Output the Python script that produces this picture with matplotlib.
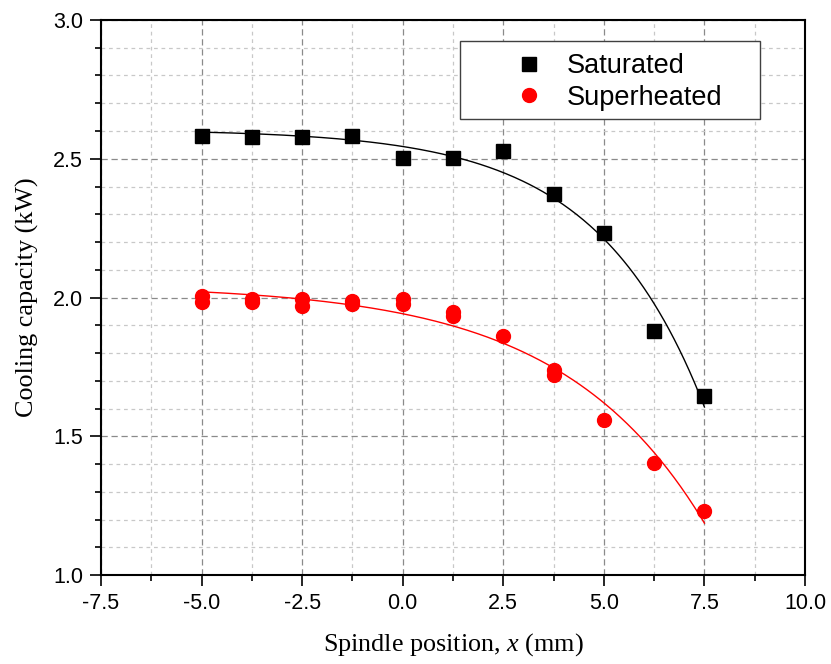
import numpy as np
import matplotlib
matplotlib.use("Agg")
import matplotlib.pyplot as plt
from matplotlib.ticker import MultipleLocator
from matplotlib.patches import Rectangle

# ---- data ----
sat_x = [-5, -3.75, -2.5, -1.25, 0, 1.25, 2.5, 3.75, 5, 6.25, 7.5]
sat_y = [2.583, 2.579, 2.580, 2.582, 2.502, 2.503, 2.527, 2.374, 2.234, 1.881, 1.644]

sup_x = [-5, -5, -3.75, -3.75, -2.5, -2.5, -1.25, -1.25, 0, 0, 1.25, 1.25,
         2.5, 3.75, 3.75, 5, 6.25, 7.5]
sup_y = [2.004, 1.982, 1.996, 1.982, 1.996, 1.971, 1.989, 1.975, 1.993, 1.975,
         1.946, 1.932, 1.860, 1.737, 1.720, 1.557, 1.403, 1.230]

x_ticks = [-7.5, -5.0, -2.5, 0.0, 2.5, 5.0, 7.5, 10.0]
y_ticks = [1.0, 1.5, 2.0, 2.5, 3.0]


def exp_fit(x, y):
    """Least-squares fit of y = a + b*exp(x/t) (grid search on t)."""
    x = np.asarray(x, float)
    y = np.asarray(y, float)
    best = None
    for t in np.linspace(0.5, 20, 3901):
        A = np.column_stack([np.ones_like(x), np.exp(x / t)])
        coef, *_ = np.linalg.lstsq(A, y, rcond=None)
        r = np.sum((A @ coef - y) ** 2)
        if best is None or r < best[0]:
            best = (r, coef, t)
    _, (a, b), t = best
    return lambda xx: a + b * np.exp(np.asarray(xx) / t)


plt.rcParams['font.family'] = ['Liberation Sans', 'DejaVu Sans']
plt.rcParams['mathtext.fontset'] = 'custom'
plt.rcParams['mathtext.rm'] = 'Liberation Serif'
plt.rcParams['mathtext.it'] = 'Liberation Serif:italic'

W, H = 831, 664
AX_L, AX_R, AX_T, AX_B = 101, 805, 20, 575
fig = plt.figure(figsize=(W / 100, H / 100), dpi=100)
ax = fig.add_axes([AX_L / W, 1 - AX_B / H, (AX_R - AX_L) / W, (AX_B - AX_T) / H])

# grids
ax.set_axisbelow(True)
ax.grid(which='major', color='#8a8a8a', linestyle=(0, (5, 3)), linewidth=0.9)
ax.grid(which='minor', color='#c8c8c8', linestyle=(0, (3, 3)), linewidth=0.9)

# fits
xf = np.linspace(-5, 7.5, 300)
f_sat = exp_fit(sat_x, sat_y)
f_sup = exp_fit(sup_x, sup_y)
ax.plot(xf, f_sat(xf), color='black', lw=1.0, zorder=2)
ax.plot(xf, f_sup(xf), color='red', lw=1.0, zorder=2)

# data
ax.plot(sat_x, sat_y, linestyle='none', marker='s', ms=9.5, color='black',
        label='Saturated', zorder=3)
ax.plot(sup_x, sup_y, linestyle='none', marker='o', ms=10, color='red',
        label='Superheated', zorder=3)

ax.set_xlim(-7.5, 10.0)
ax.set_ylim(1.0, 3.0)
ax.set_xticks(x_ticks)
ax.set_yticks(y_ticks)
ax.set_xticklabels([f'{v:.1f}' for v in x_ticks])
ax.set_yticklabels([f'{v:.1f}' for v in y_ticks])
ax.xaxis.set_minor_locator(MultipleLocator(1.25))
ax.yaxis.set_minor_locator(MultipleLocator(0.1))
ax.tick_params(which='major', direction='out', length=8, width=1.2,
               labelsize=15.5, top=False, right=False, pad=5)
ax.tick_params(which='minor', direction='out', length=4, width=1.2,
               top=False, right=False)
for s in ax.spines.values():
    s.set_linewidth(1.5)

ax.set_xlabel(r'Spindle position, $\mathit{x}$ (mm)', fontfamily='Liberation Serif',
              fontsize=18.8, labelpad=12)
ax.set_ylabel('Cooling capacity (kW)', fontfamily='Liberation Serif',
              fontsize=18.8, labelpad=10)

# legend frame
aw, ah = AX_R - AX_L, AX_B - AX_T
ax.add_patch(Rectangle(((460 - AX_L) / aw, 1 - (119 - AX_T) / ah), 300 / aw, 78 / ah,
                       transform=ax.transAxes, facecolor='white', edgecolor='#404040',
                       linewidth=1.0, zorder=4))
fs = 19.5
em = fs / 72 * 100
hl = 2.0
leg = ax.legend(loc='upper left',
                bbox_to_anchor=((529 - hl * em / 2 - AX_L) / aw, 1 - (53 - AX_T) / ah),
                fontsize=fs, frameon=False, borderpad=0, borderaxespad=0,
                handlelength=hl, handletextpad=(567 - 529 - hl * em / 2) / em,
                labelspacing=0.22, markerscale=1.0)
leg.set_zorder(5)

fig.savefig('out.png', dpi=100)
